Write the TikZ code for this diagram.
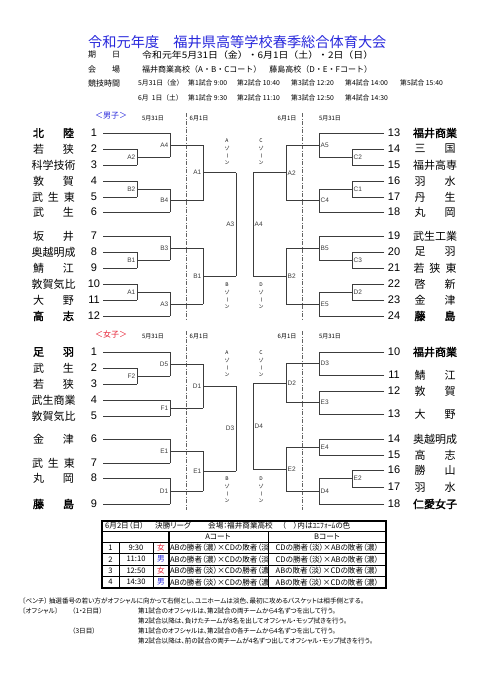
\documentclass[tikz,border=0pt]{standalone}
\usepackage{fontspec}
\setmainfont[RawFeature=+palt]{Noto Sans CJK JP}
\newfontfamily\jpn{Noto Sans CJK JP}
\newfontfamily\jpb[FakeBold=2]{Noto Sans CJK JP}
\newfontfamily\ar{Liberation Sans}
\definecolor{ttl}{RGB}{40,40,220}
\definecolor{rd}{RGB}{230,30,50}
\definecolor{ln}{RGB}{60,60,60}
\newcommand\fs[1]{\fontsize{#1}{#1}\selectfont}
\newcommand\two[2]{\makebox[41pt]{#1\hfill#2}}
\newcommand\three[3]{\makebox[43pt]{#1\hfill#2\hfill#3}}
\tikzset{
 br/.style={draw=ln, line width=0.9pt},
 jl/.style={inner sep=0pt, font=\ar\fs{6.5}, text=ln},
 nm/.style={inner sep=0pt, font=\fs{11}},
 nmb/.style={inner sep=0pt, font=\jpb\fs{11}},
 num/.style={inner sep=0pt, font=\ar\fs{11}},
 zone/.style={inner sep=0pt, font=\fontsize{5}{7.3}\selectfont, align=center, text=black},
 dt/.style={inner sep=0pt, font=\fs{6}},
 dd/.style={draw=ln!80, line width=0.8pt, dash pattern=on 4pt off 1.5pt on 1pt off 1.5pt},
 tx/.style={inner sep=0pt, anchor=west},
 tm/.style={inner sep=0pt, anchor=west, font=\jpn\fs{6.8}},
 tb/.style={draw=black, line width=0.5pt},
 tbo/.style={draw=black, line width=1.2pt},
 tc/.style={inner sep=0pt, font=\fs{7.6}},
}
% team on the left: id, number, y, x of line end, style, name
\newcommand\LT[6]{\node[#5] (#1) at (53.5,#3) {#6}; \node[num] (#1n) at (94,#3) {#2}; \draw[br] (103,#3) -- (#4,#3);}
\newcommand\RT[6]{\node[#5] (#1) at (435,#3) {#6}; \node[num] (#1n) at (394,#3) {#2}; \draw[br] (384,#3) -- (#4,#3);}
% match: x, y1, y2, x next, label
\newcommand\LM[5]{\draw[br] (#1,#2) -- (#1,#3); \draw[br] (#1,{(#2+#3)/2}) -- (#4,{(#2+#3)/2}); \node[jl,anchor=east] at ({#1-1.5},{(#2+#3)/2}) {#5};}
\newcommand\RM[5]{\draw[br] (#1,#2) -- (#1,#3); \draw[br] (#1,{(#2+#3)/2}) -- (#4,{(#2+#3)/2}); \node[jl,anchor=west] at ({#1+1.5},{(#2+#3)/2}) {#5};}
\newcommand\LF[4]{\draw[br] (#1,#2) -- (#1,#3); \node[jl,anchor=east] at ({#1-1.5},{(#2+#3)/2}) {#4};}
\newcommand\RF[4]{\draw[br] (#1,#2) -- (#1,#3); \node[jl,anchor=west] at ({#1+1.5},{(#2+#3)/2}) {#4};}
\newcommand\zn[1]{#1\\ゾ\\\rotatebox[origin=c]{-90}{ー}\\ン}
\begin{document}
\begin{tikzpicture}[x=1pt,y=-1pt]
\useasboundingbox (0,0) rectangle (481,680);
\fill[white] (0,0) rectangle (481,680);
% ---------- header
\node[tx, font=\jpn\fs{14.2}, text=ttl] (title) at (88,42) {令和元年度　福井県高等学校春季総合体育大会};
\node[tx, font=\jpn\fs{8}] (h1) at (88,55) {期　　日};
\node[tx, font=\jpn\fs{9}] (h1t) at (142,55) {\scalebox{1.1}[1]{令和元年5月31日（金）・6月1日（土）・2日（日）}};
\node[tx, font=\jpn\fs{8}] (h2) at (88,69) {会　　場};
\node[tx, font=\jpn\fs{8}] (h2t) at (142,69) {福井商業高校（A・B・Cコート）　藤島高校（D・E・Fコート）};
\node[tx, font=\jpn\fs{8}] (h3) at (88,83) {競技時間};
\node[tm] (d1) at (138,83) {5月31日（金）};
\node[tm] (d1a) at (188,83) {第1試合 9:00};
\node[tm] (d1b) at (237,83) {第2試合 10:40};
\node[tm] (d1c) at (291,83) {第3試合 12:20};
\node[tm] (d1d) at (345,83) {第4試合 14:00};
\node[tm] (d1e) at (400,83) {第5試合 15:40};
\node[tm] (d2) at (138,98) {6月\ \ 1日（土）};
\node[tm] (d2a) at (188,98) {第1試合 9:30};
\node[tm] (d2b) at (237,98) {第2試合 11:10};
\node[tm] (d2c) at (291,98) {第3試合 12:50};
\node[tm] (d2d) at (345,98) {第4試合 14:30};
% ---------- boys
\node[font=\fs{8}, text=ttl, inner sep=0pt] (boys) at (111,116) {＜男子＞};
\node[dt] (bd1) at (153,118) {5月31日};
\node[dt] (bd2) at (199,118) {6月1日};
\node[dt] (bd3) at (287,118) {6月1日};
\node[dt] (bd4) at (330,118) {5月31日};
\draw[dd] (186,113) -- (186,320);
\draw[dd] (302,113) -- (302,320);
\node[zone] (bzA) at (227,152) {\zn{A}};
\node[zone] (bzB) at (227,296) {\zn{B}};
\node[zone] (bzC) at (261,152) {\zn{C}};
\node[zone] (bzD) at (261,296) {\zn{D}};
\LT{b1}{1}{133}{170}{nmb}{\two{北}{陸}}
\LT{b2}{2}{149}{137}{nm}{\two{若}{狭}}
\LT{b3}{3}{165}{137}{nm}{科学技術}
\LT{b4}{4}{181}{137}{nm}{\two{敦}{賀}}
\LT{b5}{5}{197}{137}{nm}{\three{武}{生}{東}}
\LT{b6}{6}{212}{170}{nm}{\two{武}{生}}
\LT{b7}{7}{236}{170}{nm}{\two{坂}{井}}
\LT{b8}{8}{252}{137}{nm}{奥越明成}
\LT{b9}{9}{268}{137}{nm}{\two{鯖}{江}}
\LT{b10}{10}{284}{137}{nm}{敦賀気比}
\LT{b11}{11}{300}{137}{nm}{\two{大}{野}}
\LT{b12}{12}{316}{170}{nmb}{\two{高}{志}}
\LM{137}{149}{165}{170}{A2}
\LM{137}{181}{197}{170}{B2}
\LM{170}{133}{157}{203}{A4}
\LM{170}{189}{212}{203}{B4}
\LM{203}{145}{200.5}{236}{A1}
\LM{137}{252}{268}{170}{B1}
\LM{137}{284}{300}{170}{A1}
\LM{170}{236}{260}{203}{B3}
\LM{170}{292}{316}{203}{A3}
\LM{203}{248}{304}{236}{B1}
\LF{236}{172.75}{276}{A3}
\RT{b13}{13}{133}{319}{nmb}{福井商業}
\RT{b14}{14}{149}{352}{nm}{\two{三}{国}}
\RT{b15}{15}{165}{352}{nm}{福井高専}
\RT{b16}{16}{181}{352}{nm}{\two{羽}{水}}
\RT{b17}{17}{197}{352}{nm}{\two{丹}{生}}
\RT{b18}{18}{212}{319}{nm}{\two{丸}{岡}}
\RT{b19}{19}{236}{319}{nm}{武生工業}
\RT{b20}{20}{252}{352}{nm}{\two{足}{羽}}
\RT{b21}{21}{268}{352}{nm}{\three{若}{狭}{東}}
\RT{b22}{22}{284}{352}{nm}{\two{啓}{新}}
\RT{b23}{23}{300}{352}{nm}{\two{金}{津}}
\RT{b24}{24}{316}{319}{nmb}{\two{藤}{島}}
\RM{352}{149}{165}{319}{C2}
\RM{352}{181}{197}{319}{C1}
\RM{319}{133}{157}{286}{A5}
\RM{319}{189}{212}{286}{C4}
\RM{286}{145}{200.5}{253}{A2}
\RM{352}{252}{268}{319}{C3}
\RM{352}{284}{300}{319}{D2}
\RM{319}{236}{260}{286}{B5}
\RM{319}{292}{316}{286}{E5}
\RM{286}{248}{304}{253}{B2}
\RF{253}{172.75}{276}{A4}
% ---------- girls
\node[font=\fs{8}, text=rd, inner sep=0pt] (girls) at (111,334) {＜女子＞};
\node[dt] (gd1) at (153,336) {5月31日};
\node[dt] (gd2) at (199,336) {6月1日};
\node[dt] (gd3) at (287,336) {6月1日};
\node[dt] (gd4) at (330,336) {5月31日};
\draw[dd] (186,331) -- (186,510);
\draw[dd] (302,331) -- (302,510);
\node[zone] (gzA) at (227,364) {\zn{A}};
\node[zone] (gzB) at (227,490) {\zn{B}};
\node[zone] (gzC) at (261,364) {\zn{C}};
\node[zone] (gzD) at (261,490) {\zn{D}};
\LT{g1}{1}{352}{170}{nmb}{\two{足}{羽}}
\LT{g2}{2}{368}{137}{nm}{\two{武}{生}}
\LT{g3}{3}{384}{137}{nm}{\two{若}{狭}}
\LT{g4}{4}{400}{170}{nm}{武生商業}
\LT{g5}{5}{416}{170}{nm}{敦賀気比}
\LT{g6}{6}{439}{170}{nm}{\two{金}{津}}
\LT{g7}{7}{463}{170}{nm}{\three{武}{生}{東}}
\LT{g8}{8}{478}{170}{nm}{\two{丸}{岡}}
\LT{g9}{9}{504}{170}{nmb}{\two{藤}{島}}
\LM{137}{368}{384}{170}{F2}
\LM{170}{352}{376}{203}{D5}
\LM{170}{400}{416}{203}{F1}
\LM{203}{364}{408}{236}{D1}
\LM{170}{439}{463}{203}{E1}
\LM{170}{478}{504}{203}{D1}
\LM{203}{451}{491}{236}{E1}
\LF{236}{386}{471}{D3}
\RT{g10}{10}{352}{319}{nmb}{福井商業}
\RT{g11}{11}{375}{319}{nm}{\two{鯖}{江}}
\RT{g12}{12}{391}{319}{nm}{\two{敦}{賀}}
\RT{g13}{13}{414}{319}{nm}{\two{大}{野}}
\RT{g14}{14}{439}{319}{nm}{奥越明成}
\RT{g15}{15}{455}{319}{nm}{\two{高}{志}}
\RT{g16}{16}{470}{352}{nm}{\two{勝}{山}}
\RT{g17}{17}{487}{352}{nm}{\two{羽}{水}}
\RT{g18}{18}{504}{319}{nmb}{仁愛女子}
\RM{319}{352}{375}{286}{D3}
\RM{319}{391}{414}{286}{E3}
\RM{286}{363.5}{402.5}{253}{D2}
\RM{319}{439}{455}{286}{E4}
\RM{352}{470}{487}{319}{E2}
\RM{319}{478.5}{504}{286}{D4}
\RM{286}{447}{491.25}{253}{E2}
\RF{253}{383}{469.1}{D4}
% ---------- table
\begin{scope}
\clip (169,542.5) rectangle (267.5,588);
\foreach \n/\yy/\ta in {
 1/548/ABの勝者（濃）×CDの敗者（淡）,
 2/559.25/ABの勝者（濃）×CDの敗者（淡）,
 3/570.75/ABの勝者（淡）×CDの勝者（濃）,
 4/582.25/ABの勝者（淡）×CDの勝者（濃）}{
 \node[tc, anchor=west] (r\n d) at (169.8,\yy) {\ta};
}
\end{scope}
\draw[tb] (102,531.5) -- (386,531.5);
\draw[tb] (102,542.5) -- (386,542.5);
\draw[tb] (102,553.5) -- (386,553.5);
\draw[tb] (102,565) -- (386,565);
\draw[tb] (102,576.5) -- (386,576.5);
\draw[tb] (119,542.5) -- (119,588);
\draw[tb] (153,542.5) -- (153,588);
\draw[tb] (268,531.5) -- (268,588);
\draw[tbo] (169,531.5) -- (169,588);
\draw[tbo] (102,521) rectangle (386,588);
\node[tx, tc] (th1) at (105,526) {6月2日（日）};
\node[tx, tc] (th1b) at (155,526) {決勝リーグ};
\node[tx, tc] (th2) at (208,526) {会場：福井商業高校};
\node[tx, tc] (th3) at (282,526) {（　）内はﾕﾆﾌｫｰﾑの色};
\node[tc] (tA) at (218,537) {Aコート};
\node[tc] (tB) at (327,537) {Bコート};
\foreach \n/\yy/\tm/\g/\gc/\tbb in {
 1/548/9:30/女/rd/CDの勝者（淡）×ABの敗者（濃）,
 2/559.25/11:10/男/ttl/CDの勝者（淡）×ABの敗者（濃）,
 3/570.75/12:50/女/rd/ABの敗者（淡）×CDの敗者（濃）,
 4/582.25/14:30/男/ttl/ABの敗者（淡）×CDの敗者（濃）}{
 \node[tc] (r\n a) at (110.5,\yy) {\n};
 \node[tc] (r\n b) at (136,\yy) {\tm};
 \node[tc, text=\gc] (r\n c) at (161,\yy) {\g};
 \node[tc] (r\n e) at (327,\yy) {\tbb};
}
% ---------- notes
\node[tx, font=\fs{6.6}] (n1) at (22,601) {〔ベンチ〕\ 抽選番号の若い方がオフシャルに向かって右側とし、ユニホームは淡色、最初に攻めるバスケットは相手側とする。};
\node[tx, font=\fs{6.6}] (n2) at (22,611) {〔オフシャル〕};
\node[tx, font=\fs{6.6}] (n2b) at (72,611) {（1・2日目）};
\node[tx, font=\fs{6.6}] (n2c) at (138,611) {第1試合のオフシャルは、第2試合の両チームから4名ずつを出して行う。};
\node[tx, font=\fs{6.6}] (n3) at (138,621) {第2試合以降は、負けたチームが8名を出してオフシャル・モップ拭きを行う。};
\node[tx, font=\fs{6.6}] (n4) at (72,631) {（3日目）};
\node[tx, font=\fs{6.6}] (n4b) at (138,631) {第1試合のオフシャルは、第2試合の各チームから4名ずつを出して行う。};
\node[tx, font=\fs{6.6}] (n5) at (138,641) {第2試合以降は、前の試合の両チームが4名ずつ出してオフシャル・モップ拭きを行う。};
\end{tikzpicture}
\end{document}
